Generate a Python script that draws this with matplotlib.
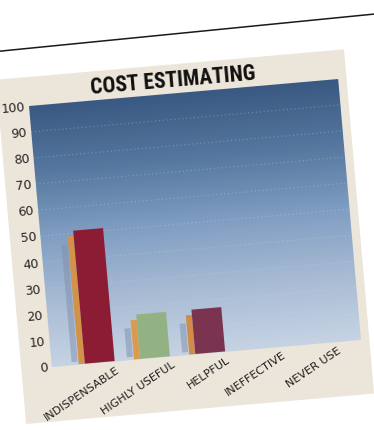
import numpy as np
import matplotlib
matplotlib.use("Agg")
import matplotlib.pyplot as plt
from matplotlib.colors import LinearSegmentedColormap
from matplotlib.lines import Line2D
from matplotlib.patches import Rectangle
from matplotlib.transforms import Affine2D
from mpl_toolkits.axisartist import floating_axes
from mpl_toolkits.axisartist.grid_finder import DictFormatter, FixedLocator

categories = ["INDISPENSABLE", "HIGHLY USEFUL", "HELPFUL", "INEFFECTIVE", "NEVER USE"]
values = np.array([51, 17, 17, 0, 0])
front_colors = ["#8c1b34", "#93b283", "#7a3450", "#7a3450", "#7a3450"]
side_colors = ["#d3924a", "#d99c4f", "#d08c48", "#d08c48", "#d08c48"]
y_ticks = list(range(0, 101, 10))
title = "COST ESTIMATING"

# the scanned page is tilted, so the whole chart is drawn on a rotated frame
# (1 data unit = px_cat / px_val pixels so the rotation stays a true rotation)
tilt = 5
px_cat = 55.5
px_val = 2.62
x_lo, x_hi = -1.16, 4.43
depth = 0.29  # 3d bars sit a bit left of their category tick

tr = Affine2D().scale(px_cat, px_val).rotate_deg(tilt)
helper = floating_axes.GridHelperCurveLinear(
    tr,
    extremes=(x_lo, x_hi, 0, 100),
    grid_locator1=FixedLocator(list(range(len(categories)))),
    tick_formatter1=DictFormatter(dict(enumerate(categories))),
    grid_locator2=FixedLocator(y_ticks),
    tick_formatter2=DictFormatter({v: str(v) for v in y_ticks}),
)

fig = plt.figure(figsize=(3.74, 4.31), dpi=100)
fig.patch.set_facecolor("white")
# floating axes pad their limits by 2%, rect is enlarged to make up for it
ax = fig.add_axes([0.068, 0.1405, 0.905, 0.681],
                  axes_class=floating_axes.FloatingAxes, grid_helper=helper)
ax.patch.set_facecolor("none")
aux = ax.get_aux_axes(tr)

# beige card behind the chart
panel = Rectangle((x_lo - 0.55, -21), (x_hi - x_lo) + 0.71, 132,
                  facecolor="#ece5d9", edgecolor="none", zorder=-1)
aux.add_patch(panel)
panel.set_clip_on(False)

# blue backdrop, dark at the top
sky = LinearSegmentedColormap.from_list(
    "sky", ["#c6d3e4", "#a8bbd4", "#809ec2", "#56779f", "#3a5982"])
grad = np.linspace(0, 1, 256).reshape(-1, 1)
aux.imshow(grad, cmap=sky, origin="lower", extent=(x_lo, x_hi, 0, 100),
           aspect="auto", interpolation="bilinear", zorder=0)
aux.hlines(y_ticks[1:-1], x_lo, x_hi, colors="#dfe7f2",
           linestyles=(0, (1, 2.5)), linewidth=0.8, alpha=0.3, zorder=0.5)

# bars: shadow, orange side, front face
xs = np.arange(len(categories)) - depth
bar_w = 0.54
side_w = 0.11
aux.bar(xs - bar_w / 2 - side_w - 0.07, np.clip(values - 6, 0, None), width=0.11,
        bottom=1, color="#7e8fab", alpha=0.5, zorder=1)
aux.bar(xs - bar_w / 2 - side_w / 2, np.clip(values - 2, 0, None), width=side_w,
        color=side_colors, zorder=2)
aux.bar(xs, values, width=bar_w, color=front_colors, zorder=3)

aux.text(1.47, 103, title, rotation=tilt, rotation_mode="anchor",
         ha="center", va="baseline", fontsize=15.5, fontweight="black",
         family=["Roboto Condensed", "Liberation Sans Narrow", "Roboto", "DejaVu Sans"],
         color="#111111")

ax.axis["top"].set_visible(False)
ax.axis["right"].set_visible(False)
for side in ("left", "bottom"):
    ax.axis[side].line.set_visible(False)
    ax.axis[side].major_ticks.set_visible(False)
    ax.axis[side].major_ticks.set_ticksize(0)
ax.axis["left"].major_ticklabels.set(fontsize=9, color="#262626", pad=3)
ax.axis["bottom"].major_ticklabels.set(fontsize=8, color="#1e1e1e", rotation=29,
                                       ha="right", va="top", pad=2)

# edge of the page above the card
fig.add_artist(Line2D([0, 1], [0.879, 0.965], transform=fig.transFigure,
                      color="#1a1a1a", linewidth=1.1))

fig.savefig("out.png", dpi=100)
